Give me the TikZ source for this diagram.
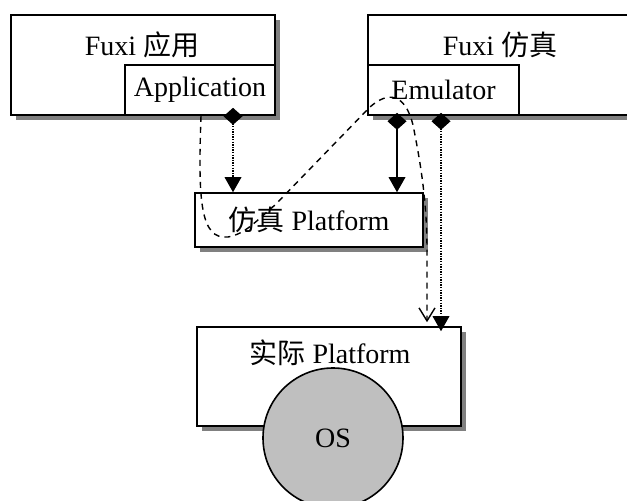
\documentclass[tikz,border=0pt]{standalone}
\usepackage{fontspec}
\setmainfont{Liberation Serif}
\newfontfamily\cjk{Noto Sans CJK SC}
\usetikzlibrary{arrows.meta,shadows}
\begin{document}
\begin{tikzpicture}[x=1pt,y=-1pt,
  lbl/.style={font=\fontsize{28}{30}\selectfont, inner sep=0pt},
  box/.style={draw, line width=1.6pt, fill=white, rectangle, inner sep=0pt, lbl},
  shbox/.style={box, drop shadow={shadow xshift=5pt, shadow yshift=-5pt, fill=black!50, opacity=1}},
  conn/.style={line width=1.4pt},
  dotline/.style={conn, dash pattern=on 1.3pt off 1.3pt},
  dashline/.style={conn, dash pattern=on 6pt off 5pt},
  dtarrow/.style={arrows={Diamond[length=17pt,width=19pt,sep=0pt,line width=0pt]-Triangle[length=15pt,width=17pt,line width=0pt]}},
  oend/.style={arrows={-Straight Barb[length=13pt,width=16pt,line width=1.4pt]}}
]
\useasboundingbox (0,0) rectangle (627,501);

% boxes
\node[shbox, minimum width=264pt, minimum height=100pt] (appbox) at (143,65) {};
\node[box, minimum width=150pt, minimum height=50pt] (app) at (200,90) {Application};
\node[lbl] (apptxt) at (142,45) {Fuxi {\cjk 应用}};

\node[shbox, minimum width=264pt, minimum height=100pt] (emubox) at (500,65) {};
\node[box, minimum width=151pt, minimum height=50pt] (emu) at (443.5,90) {Emulator};
\node[lbl] (emutxt) at (500,45) {Fuxi {\cjk 仿真}};

\node[shbox, minimum width=228pt, minimum height=54pt] (simplat) at (309,220) {{\cjk 仿真} Platform};

\node[shbox, minimum width=264pt, minimum height=99pt] (realplat) at (329,376.5) {};
\node[lbl] (realtxt) at (330,353) {{\cjk 实际} Platform};

\node[draw, line width=1.6pt, circle, fill=black!25, minimum size=140pt, inner sep=0pt, lbl] (os) at (333,438) {OS};

% x positions of connectors
\coordinate (x1) at (233,0);
\coordinate (x2) at (397,0);
\coordinate (x3) at (441,0);
\coordinate (x4) at (201,0);
\coordinate (x5) at (427,0);

% connectors
\draw[dotline, dtarrow] ([yshift=8pt]app.south -| x1) -- (simplat.north -| x1);
\draw[conn, dtarrow] ([yshift=3pt]emu.south -| x2) -- (simplat.north -| x2);
\draw[dotline, dtarrow] ([yshift=3pt]emu.south -| x3) -- ([yshift=-5pt]realplat.north -| x3);

\draw[dashline, oend] (app.south -| x4)
  .. controls (198,200) and (200,240) .. (228,237)
  .. controls (245,234) and (255,222) .. (275,205)
  -- (370,107)
  .. controls (388,91) and (405,93) .. (413,125)
  .. controls (420,160) and (427,200) .. (427,250)
  -- ([yshift=4pt]realplat.north -| x5);
\end{tikzpicture}
\end{document}
